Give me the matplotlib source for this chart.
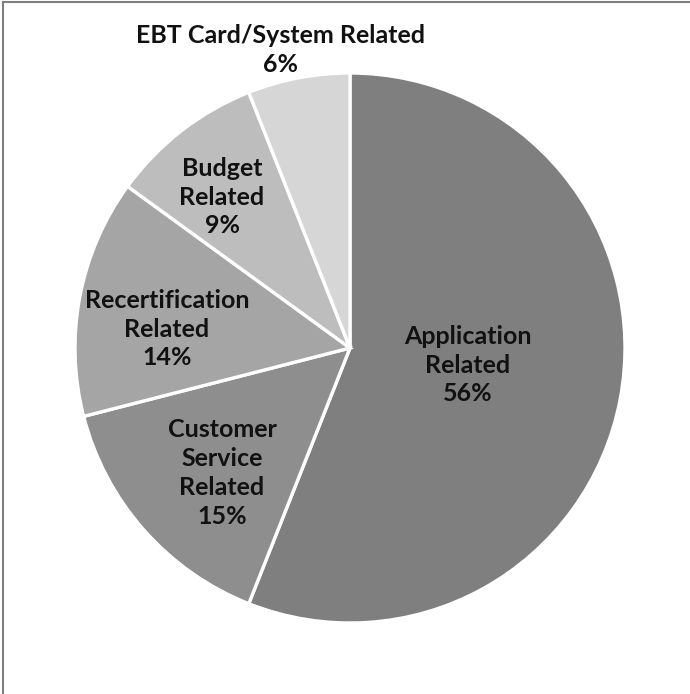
import matplotlib
matplotlib.use("Agg")
import matplotlib.pyplot as plt
from matplotlib.lines import Line2D

plt.rcParams['font.family'] = ['Lato', 'DejaVu Sans']

categories = ["Application\nRelated", "Customer\nService\nRelated",
              "Recertification\nRelated", "Budget\nRelated",
              "EBT Card/System Related"]
shares = [56, 15, 14, 9, 6]
colors = ["#7f7f7f", "#8e8e8e", "#a5a5a5", "#bdbdbd", "#d6d6d6"]
# label anchor points (pixel coordinates, y measured from top)
label_xy = [(468, 365), (222, 473), (167, 329), (222, 197), (281, 50)]

W, H = 690, 694
fig = plt.figure(figsize=(W / 100, H / 100), dpi=100)
ax = fig.add_axes([0, 0, 1, 1])
ax.set_xlim(0, W)
ax.set_ylim(0, H)
ax.set_aspect("equal")
ax.axis("off")

cx, cy, r = 350, H - 348, 275
ax.pie(shares, colors=colors, startangle=90, counterclock=False,
       center=(cx, cy), radius=r, frame=False,
       wedgeprops=dict(edgecolor="white", linewidth=2.4))
ax.set_xlim(0, W)
ax.set_ylim(0, H)

for name, val, (x, y) in zip(categories, shares, label_xy):
    ax.text(x, H - y, f"{name}\n{val}%", ha="center", va="center",
            fontsize=18, fontweight="bold", color="#111111",
            linespacing=1.3)

# chart frame: top and left edges
fig.add_artist(Line2D([3 / W, 3 / W], [0, 1 - 2 / H], transform=fig.transFigure,
                      color="#808080", linewidth=1.5))
fig.add_artist(Line2D([3 / W, 1], [1 - 2 / H, 1 - 2 / H], transform=fig.transFigure,
                      color="#808080", linewidth=1.5))

fig.savefig("out.png", dpi=100)
